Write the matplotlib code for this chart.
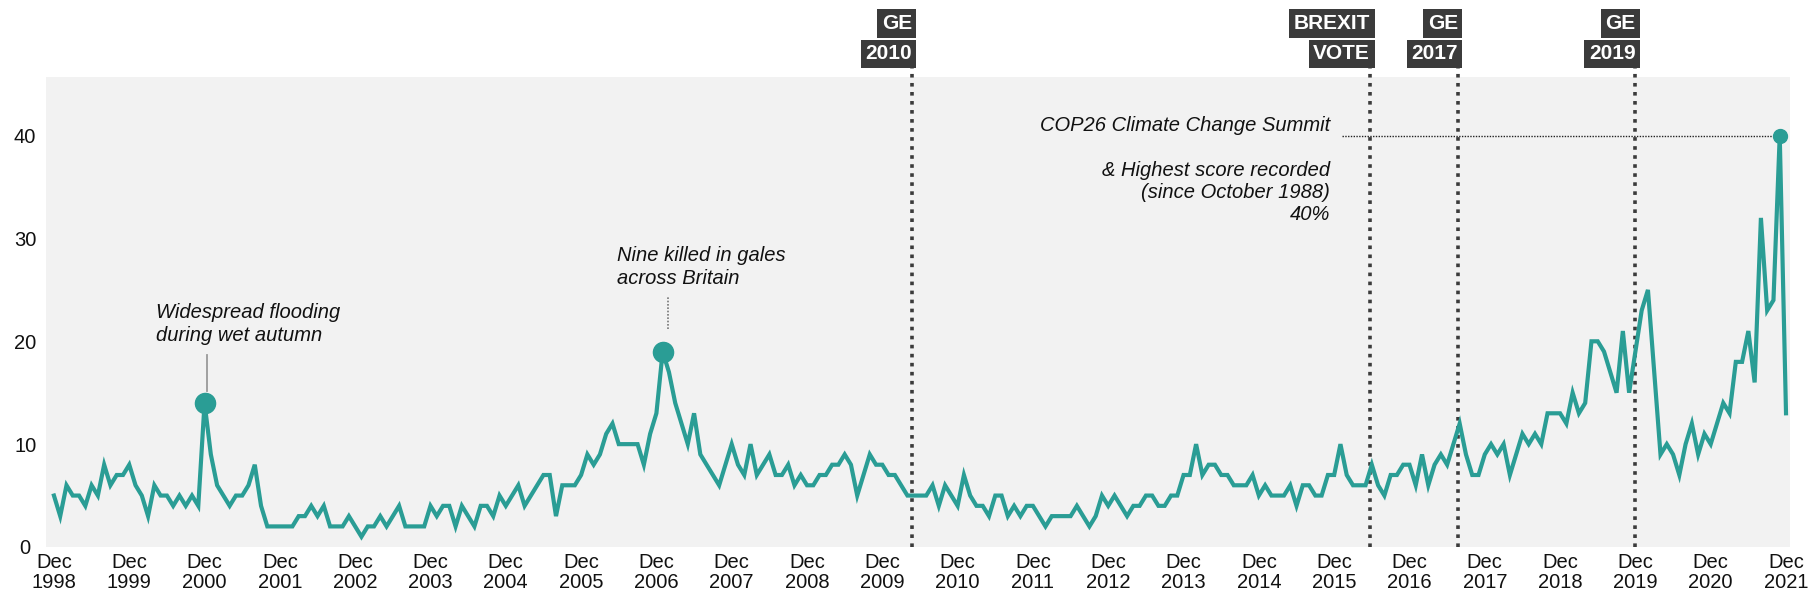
import matplotlib
matplotlib.use("Agg")
import matplotlib.pyplot as plt
import matplotlib.transforms as mtransforms
import numpy as np

# Monthly share (%) from Dec 1998 (index 0) to Dec 2021 (index 276)
values = [
    5, 3, 6, 5, 5, 4, 6, 5, 8, 6,
    7, 7, 8, 6, 5, 3, 6, 5, 5, 4,
    5, 4, 5, 4, 14, 9, 6, 5, 4, 5,
    5, 6, 8, 4, 2, 2, 2, 2, 2, 3,
    3, 4, 3, 4, 2, 2, 2, 3, 2, 1,
    2, 2, 3, 2, 3, 4, 2, 2, 2, 2,
    4, 3, 4, 4, 2, 4, 3, 2, 4, 4,
    3, 5, 4, 5, 6, 4, 5, 6, 7, 7,
    3, 6, 6, 6, 7, 9, 8, 9, 11, 12,
    10, 10, 10, 10, 8, 11, 13, 19, 17, 14,
    12, 10, 13, 9, 8, 7, 6, 8, 10, 8,
    7, 10, 7, 8, 9, 7, 7, 8, 6, 7,
    6, 6, 7, 7, 8, 8, 9, 8, 5, 7,
    9, 8, 8, 7, 7, 6, 5, 5, 5, 5,
    6, 4, 6, 5, 4, 7, 5, 4, 4, 3,
    5, 5, 3, 4, 3, 4, 4, 3, 2, 3,
    3, 3, 3, 4, 3, 2, 3, 5, 4, 5,
    4, 3, 4, 4, 5, 5, 4, 4, 5, 5,
    7, 7, 10, 7, 8, 8, 7, 7, 6, 6,
    6, 7, 5, 6, 5, 5, 5, 6, 4, 6,
    6, 5, 5, 7, 7, 10, 7, 6, 6, 6,
    8, 6, 5, 7, 7, 8, 8, 6, 9, 6,
    8, 9, 8, 10, 12, 9, 7, 7, 9, 10,
    9, 10, 7, 9, 11, 10, 11, 10, 13, 13,
    13, 12, 15, 13, 14, 20, 20, 19, 17, 15,
    21, 15, 19, 23, 25, 17, 9, 10, 9, 7,
    10, 12, 9, 11, 10, 12, 14, 13, 18, 18,
    21, 16, 32, 23, 24, 40, 13,
]
months = np.arange(len(values))

tick_years = list(range(1998, 2022))
tick_months = [12 * (y - 1998) for y in tick_years]
tick_labels = [f"Dec\n{y}" for y in tick_years]

ytick_values = [0, 10, 20, 30, 40]

event_top = ["GE", "BREXIT", "GE", "GE"]
event_bottom = ["2010", "VOTE", "2017", "2019"]
event_months = [136.7, 209.7, 223.7, 252.0]

highlight_months = [24, 97, 275]
flood_text = "Widespread flooding\nduring wet autumn"
gales_text = "Nine killed in gales\nacross Britain"
cop_title = "COP26 Climate Change Summit"
cop_text = "& Highest score recorded\n(since October 1988)\n40%"

TEAL = "#2a9d95"
DARK = "#3b3b3b"
SANS = ["Liberation Sans", "DejaVu Sans"]

fig = plt.figure(figsize=(18.10, 6.04), dpi=100)
ax = fig.add_axes([0.0254, 0.0944, 0.9636, 0.7781])
ax.set_facecolor("#f2f2f2")
for s in ax.spines.values():
    s.set_visible(False)

ax.set_xlim(-1.27, 276.65)
ax.set_ylim(0, 45.7)

ax.plot(months, values, color=TEAL, lw=3.0, solid_joinstyle="miter", zorder=4)

hv = [values[m] for m in highlight_months]
ax.plot(highlight_months[:2], hv[:2], "o", color=TEAL, ms=14.5, zorder=5)
ax.plot(highlight_months[2:], hv[2:], "o", color=TEAL, ms=10, zorder=5)

# ticks
ax.set_xticks(tick_months)
ax.set_xticklabels(tick_labels, fontfamily=SANS, fontsize=14.5, linespacing=1.1)
ax.set_yticks(ytick_values)
ax.set_yticklabels([str(v) for v in ytick_values], fontfamily=SANS, fontsize=14.5)
ax.tick_params(axis="x", length=0, pad=4, colors="#111111")
ax.tick_params(axis="y", length=0, pad=15, colors="#111111")
for lbl in ax.get_yticklabels():
    lbl.set_horizontalalignment("center")

# event markers
trans = mtransforms.blended_transform_factory(ax.transData, fig.transFigure)
for top, bot, m in zip(event_top, event_bottom, event_months):
    ax.axvline(m, ymin=0, ymax=1.021, color=DARK, lw=2.6,
               linestyle=(0, (1, 1.5)), dash_capstyle="butt",
               clip_on=False, zorder=3)
    for word, fy in ((top, 0.961), (bot, 0.911)):
        ax.text(m, fy, word, transform=trans, ha="right", va="center",
                color="white", fontsize=15, fontweight="bold", fontfamily=SANS,
                bbox=dict(boxstyle="square,pad=0.22", fc=DARK, ec="none"))

# annotations
ax.text(16.3, 21.7, flood_text, fontsize=14.5, fontstyle="italic",
        fontfamily=SANS, ha="left", va="center", linespacing=1.25, color="#111111")
ax.plot([highlight_months[0] + 0.4] * 2, [15.2, 18.7], color="#9a9a9a", lw=1.3, zorder=3)

ax.text(89.7, 27.2, gales_text, fontsize=14.5, fontstyle="italic",
        fontfamily=SANS, ha="left", va="center", linespacing=1.25, color="#111111")
ax.plot([highlight_months[1] + 0.8] * 2, [21.2, 24.4], color="#777777", lw=1.2,
        linestyle=(0, (1, 1)), zorder=3)

ax.text(203.3, 41.0, cop_title, fontsize=14.5, fontstyle="italic",
        fontfamily=SANS, ha="right", va="center", color="#111111")
ax.text(203.3, 34.5, cop_text, fontsize=14.5, fontstyle="italic",
        fontfamily=SANS, ha="right", va="center", linespacing=1.2, color="#111111")
ax.plot([205.3, highlight_months[2]], [hv[2], hv[2]], color="#222222", lw=1.0,
        linestyle=(0, (1, 1)), zorder=3)

fig.savefig("out.png", dpi=100, facecolor="white")
